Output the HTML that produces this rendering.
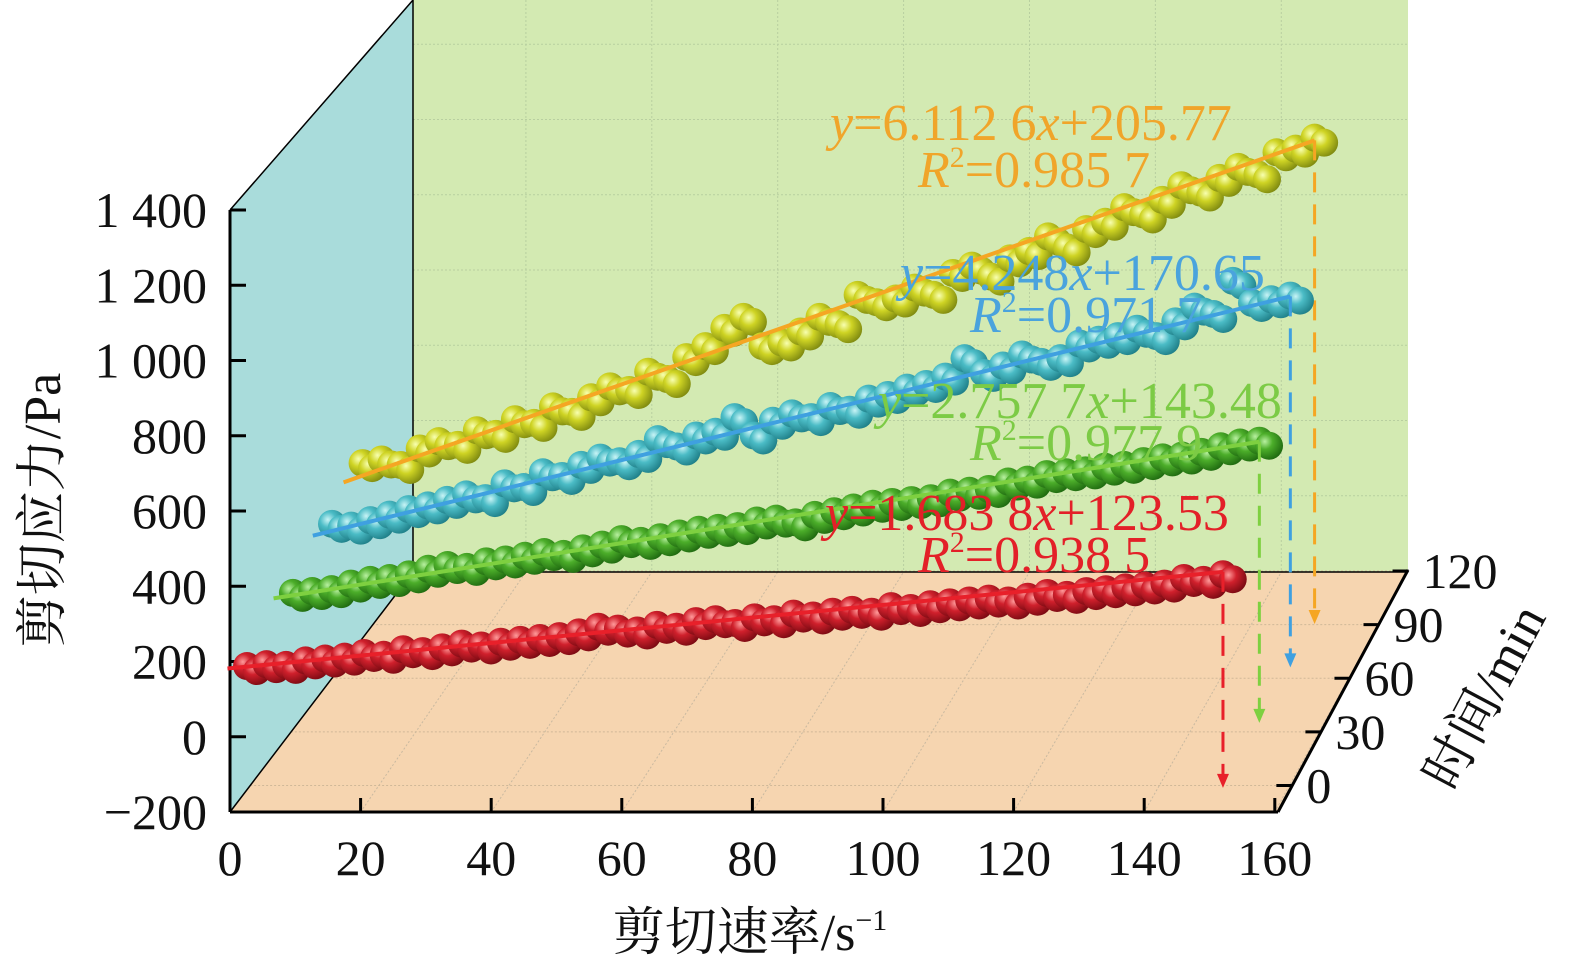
<!DOCTYPE html>
<html><head><meta charset="utf-8"><style>
html,body{margin:0;padding:0;background:#fff;}
svg{display:block;font-family:"Liberation Serif","Noto Serif CJK SC",serif;}
</style></head><body>
<svg id="chart" width="1575" height="969" viewBox="0 0 1575 969" xmlns="http://www.w3.org/2000/svg">
<defs>
<radialGradient id="g0" cx="0.35" cy="0.35" r="0.7"><stop offset="0" stop-color="#ff9a9a"/><stop offset="0.4" stop-color="#d0202c"/><stop offset="1" stop-color="#7a0a12"/></radialGradient>
<radialGradient id="g1" cx="0.35" cy="0.35" r="0.7"><stop offset="0" stop-color="#b8f0a0"/><stop offset="0.4" stop-color="#4cae2a"/><stop offset="1" stop-color="#1f6a10"/></radialGradient>
<radialGradient id="g2" cx="0.35" cy="0.35" r="0.7"><stop offset="0" stop-color="#c8f4f6"/><stop offset="0.4" stop-color="#4bbcc6"/><stop offset="1" stop-color="#1f7f88"/></radialGradient>
<radialGradient id="g3" cx="0.35" cy="0.35" r="0.7"><stop offset="0" stop-color="#f8ffb0"/><stop offset="0.4" stop-color="#cfd424"/><stop offset="1" stop-color="#7f8a10"/></radialGradient>
</defs>
<polygon points="413,0 1408,0 1408,572 413,572" fill="#d3eab2"/>
<polygon points="230,210 413,0 413,572 230,812" fill="#a9dcdb"/>
<polygon points="230,812 413,572 1408,572 1278,812" fill="#f6d5b0"/>
<g id="grid"></g>
<g id="axes"></g>
<g id="marks"></g>
<g id="eqs">
<text x="830" y="140" font-size="52" fill="#f0a52a"><tspan font-style="italic">y</tspan>=6.112 6<tspan font-style="italic">x</tspan>+205.77</text>
<text x="918" y="187" font-size="52" fill="#f0a52a"><tspan font-style="italic">R</tspan><tspan font-size="30" dy="-20">2</tspan><tspan dy="20">=0.985 7</tspan></text>
<text x="900" y="290" font-size="52" fill="#4aa3dd"><tspan font-style="italic">y</tspan>=4.248<tspan font-style="italic">x</tspan>+170.65</text>
<text x="970" y="332" font-size="52" fill="#4aa3dd"><tspan font-style="italic">R</tspan><tspan font-size="30" dy="-20">2</tspan><tspan dy="20">=0.971 7</tspan></text>
<text x="878" y="418" font-size="52" fill="#7ccb45"><tspan font-style="italic">y</tspan>=2.757 7<tspan font-style="italic">x</tspan>+143.48</text>
<text x="970" y="460" font-size="52" fill="#7ccb45"><tspan font-style="italic">R</tspan><tspan font-size="30" dy="-20">2</tspan><tspan dy="20">=0.977 9</tspan></text>
<text x="825" y="530" font-size="52" fill="#e32028"><tspan font-style="italic">y</tspan>=1.683 8<tspan font-style="italic">x</tspan>+123.53</text>
<text x="918" y="572" font-size="52" fill="#e32028"><tspan font-style="italic">R</tspan><tspan font-size="30" dy="-20">2</tspan><tspan dy="20">=0.938 5</tspan></text>
</g>
<text x="750" y="950" font-size="52" text-anchor="middle" fill="#111">剪切速率/s<tspan font-size="30" dy="-20">−1</tspan></text>
<text transform="translate(60,510) rotate(-90)" font-size="52" text-anchor="middle" fill="#111">剪切应力/Pa</text>
<text transform="translate(1500,705) rotate(-62)" font-size="52" text-anchor="middle" fill="#111">时间/min</text>
</svg>
<script>
const xTicks=[0,20,40,60,80,100,120,140,160];
const yTicks=[-200,0,200,400,600,800,1000,1200,1400];
const yTickLabels=["\u2212200","0","200","400","600","800","1 000","1 200","1 400"];
const tTicks=[0,30,60,90,120];
const seriesTimes=[0,30,60,90];
const seriesDepth=[0.1,0.37,0.6,0.78];
const slopes=[1.6838,2.7577,4.248,6.1126];
const intercepts=[123.53,143.48,170.65,205.77];
const xs=[0,3,6,9,12,15,18,21,24,27,30,33,36,39,42,45,48,51,54,57,60,63,66,69,72,75,78,81,84,87,90,93,96,99,102,105,108,111,114,117,120,123,126,129,132,135,138,141,144,147,150];
const redY=[125,130,128,140,145,150,160,155,170,165,175,185,180,190,195,200,205,215,230,225,220,235,230,245,250,240,255,250,265,260,270,275,270,285,280,290,295,300,305,300,310,320,315,325,330,335,340,345,360,355,370];
const greenY=[150,155,160,175,185,190,200,215,225,220,235,240,250,260,255,270,280,295,290,300,310,320,325,330,345,350,340,360,370,380,390,395,400,405,420,425,430,450,455,470,475,480,490,495,505,515,520,530,545,555,560];
const blueY=[190,185,200,215,230,240,255,270,260,300,290,330,320,350,370,360,380,420,400,430,440,480,430,470,490,480,510,500,530,540,560,570,590,640,600,620,650,630,640,680,690,700,720,700,740,780,760,850,790,800,810];
const orangeY=[240,250,235,280,300,290,330,320,360,350,395,380,420,450,440,490,470,530,560,610,640,560,570,600,640,620,700,680,690,720,700,760,780,750,800,820,860,830,880,900,940,920,960,1000,980,1020,1050,1030,1090,1100,1130];
const seriesY=[redY,greenY,blueY,orangeY];
const lineColors=["#e8202a","#7ed040","#3fa0e0","#f5a623"];
const NS="http://www.w3.org/2000/svg";
function s(d){return 1-0.036*d;}
function px(x,d){return 230+x*6.53*s(d)+d*170;}
function py(y,d){return 812-(y+200)*0.37625*s(d)-d*241;}
function mk(tag,attrs,parent){const e=document.createElementNS(NS,tag);for(const k in attrs)e.setAttribute(k,attrs[k]);parent.appendChild(e);return e;}
const grid=document.getElementById('grid'),axes=document.getElementById('axes'),marks=document.getElementById('marks');
xTicks.forEach(t=>{if(t===0)return;
 const l=mk('line',{x1:px(t,0),y1:812,x2:px(t,1),y2:572,stroke:'#c9b9a0','stroke-width':1,'stroke-dasharray':'2,2'},grid);
 
 if(t<160){const v=mk('line',{x1:px(t,1),y1:0,x2:px(t,1),y2:572,stroke:'#b8cfa0','stroke-width':1,'stroke-dasharray':'2,2'},grid);
 }});
yTicks.forEach(t=>{const y0=py(t,0);
 const l=mk('line',{x1:413,y1:y0-241,x2:1408,y2:y0-241,stroke:'#b8cfa0','stroke-width':1,'stroke-dasharray':'2,2'},grid);
 });
tTicks.forEach(t=>{const fy=812-(0.11+0.89*t/120)*241;
 const l=mk('line',{x1:230+(812-fy)*183/241,y1:fy,x2:1278+(812-fy)*130/240,y2:fy,stroke:'#d0b898','stroke-width':1,'stroke-dasharray':'2,2'},grid);
 });
let a=mk('line',{x1:230,y1:210,x2:230,y2:812,stroke:'#000','stroke-width':3},axes);

a=mk('line',{x1:230,y1:812,x2:1278,y2:812,stroke:'#000','stroke-width':3},axes);

a=mk('line',{x1:1278,y1:812,x2:1408,y2:570,stroke:'#000','stroke-width':3},axes);

a=mk('polyline',{points:'230,210 413,0 413,572 230,812',fill:'none',stroke:'#000','stroke-width':1.5},axes);

a=mk('line',{x1:413,y1:572,x2:1408,y2:572,stroke:'#000','stroke-width':1.5},axes);

xTicks.forEach(t=>{const x=230+t*6.53;
 const k=mk('line',{x1:x,y1:812,x2:x,y2:798,stroke:'#000','stroke-width':3},axes);
 
 const tx=mk('text',{x:x,y:875,'font-size':50,'text-anchor':'middle',fill:'#111'},axes);tx.textContent=t;
 });
yTicks.forEach((t,i)=>{const y=py(t,0);
 const k=mk('line',{x1:230,y1:y,x2:246,y2:y,stroke:'#000','stroke-width':3},axes);
 
 const tx=mk('text',{x:207,y:y+17,'font-size':50,'text-anchor':'end',fill:'#111'},axes);tx.textContent=yTickLabels[i];
 });
tTicks.forEach(t=>{const fy=812-(0.11+0.89*t/120)*241;const fx=1278+(812-fy)*130/240;
 const k=mk('line',{x1:fx-16,y1:fy,x2:fx,y2:fy,stroke:'#000','stroke-width':3},axes);
 
 const tx=mk('text',{x:fx+14,y:fy+17,'font-size':50,fill:'#111'},axes);tx.textContent=t;
 });
for(let si=3;si>=0;si--){
 const d=seriesDepth[si],ys=seriesY[si];
 const g=mk('g',{},marks);
 
 
 xs.forEach((x,i)=>{
  [0,1.5].forEach(off=>{
   const c=mk('circle',{cx:px(x+off,d),cy:py(ys[i],d)+(off?5:0),r:14,fill:'url(#g'+si+')'},g);
   
  });
 });
 const x0=-3,x1=150;
 const ln=mk('line',{x1:px(x0,d),y1:py(intercepts[si]+slopes[si]*x0,d),x2:px(x1,d),y2:py(intercepts[si]+slopes[si]*x1,d),stroke:lineColors[si],'stroke-width':4},g);
 
 const ax=px(x1,d),ay=py(intercepts[si]+slopes[si]*x1,d),fy=812-d*241;
 const ar=mk('line',{x1:ax,y1:ay,x2:ax,y2:fy-12,stroke:lineColors[si],'stroke-width':3,'stroke-dasharray':'20,12'},g);
 
 const hd=mk('polygon',{points:(ax-6)+','+(fy-14)+' '+(ax+6)+','+(fy-14)+' '+ax+','+fy,fill:lineColors[si]},g);
 
}
</script>
</body></html>
